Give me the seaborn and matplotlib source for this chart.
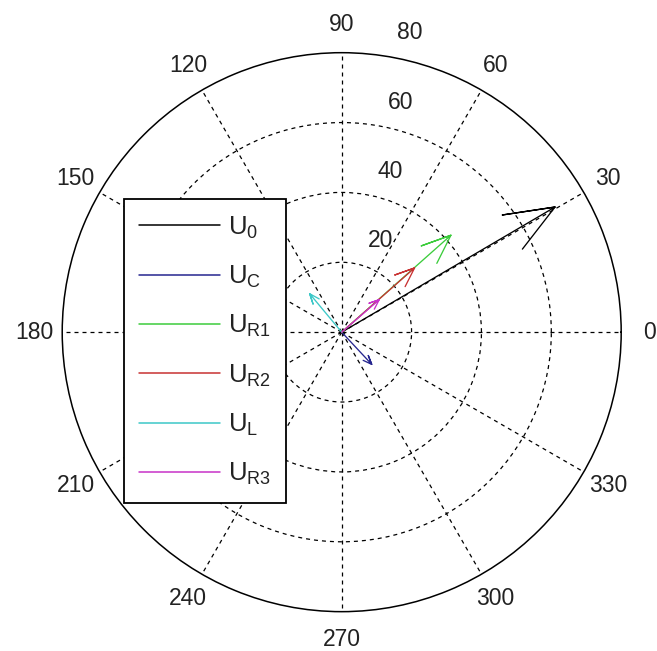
import numpy as np
import matplotlib
matplotlib.use("Agg")
import matplotlib.pyplot as plt
from matplotlib.lines import Line2D
import seaborn as sns
import pandas as pd

# ---- data ----
labels = [r"$\mathregular{U_0}$", r"$\mathregular{U_C}$", r"$\mathregular{U_{R1}}$",
          r"$\mathregular{U_{R2}}$", r"$\mathregular{U_L}$", r"$\mathregular{U_{R3}}$"]
magnitudes = [70.8, 12.6, 41.8, 27.8, 14.3, 14.2]
angles_deg = [30.4, -47.0, 41.6, 41.4, 129.8, 40.9]
colors = ["#000000", "#26268f", "#3ccc3c", "#c83232", "#3cc8c8", "#c832c8"]

r_ticks = [20, 40, 60, 80]
theta_ticks = list(range(0, 360, 30))
theta_labels = ["0", "30", "60", "90", "120", "150", "180", "210", "240", "270", "300", "330"]
r_max = 80

sns.set_style("white")
plt.rcParams["font.family"] = ["Liberation Sans", "DejaVu Sans"]
plt.rcParams["mathtext.fontset"] = "custom"
plt.rcParams["mathtext.rm"] = "Liberation Sans"

fig = plt.figure(figsize=(6.57, 6.51), dpi=100)
fig.patch.set_facecolor("white")
ax = fig.add_axes([0.0947, 0.0604, 0.8508, 0.8587], projection="polar")
ax.set_facecolor("white")
ax.set_ylim(0, r_max)
ax.set_xticks(np.deg2rad(theta_ticks))
ax.set_xticklabels([])
ax.set_yticks(r_ticks[:-1])
ax.set_yticklabels([])
ax.grid(True, color="black", linestyle=(0, (3.2, 3.2)), linewidth=0.9)
ax.spines["polar"].set_color("black")
ax.spines["polar"].set_linewidth(1.1)

# compass arrows (MATLAB style: head = 0.2 L long, 0.08 L half-width)
head_r = np.hypot(0.8, 0.08)
head_a = np.arctan2(0.08, 0.8)
for lab, m, a, c in zip(labels, magnitudes, angles_deg, colors):
    th = np.deg2rad(a)
    df = pd.DataFrame({
        "theta": [th, th, th + head_a, th, th - head_a],
        "r": [0, m, head_r * m, m, head_r * m],
        "step": range(5),
    })
    sns.lineplot(data=df, x="theta", y="r", sort=False, estimator=None,
                 color=c, linewidth=0.95, ax=ax, legend=False)
ax.set_xlabel("")
ax.set_ylabel("")

# angle labels
for t, tl in zip(theta_ticks, theta_labels):
    ax.text(np.deg2rad(t), 1.1 * r_max, tl, ha="center", va="center",
            fontsize=16.5, color="#222222")

# radial labels
for rv in r_ticks:
    ax.annotate(str(rv), xy=(np.deg2rad(82), rv + 1), xytext=(29, 19),
                textcoords="offset pixels", ha="center", va="center",
                fontsize=16.5, color="#222222", annotation_clip=False)

handles = [Line2D([], [], color=c, linewidth=1.1) for c in colors]
leg = fig.legend(handles, labels, loc="upper left",
                 bbox_to_anchor=(124 / 657, 1 - 199 / 651),
                 bbox_transform=fig.transFigure, frameon=True, fancybox=False,
                 edgecolor="black", framealpha=1, borderaxespad=0,
                 handlelength=3.15, handletextpad=0.28, labelspacing=0.9,
                 borderpad=0.6, fontsize=18.5)
leg.get_frame().set_linewidth(1.3)
for txt in leg.get_texts():
    txt.set_color("#222222")

fig.savefig("out.png", dpi=100, facecolor="white")
